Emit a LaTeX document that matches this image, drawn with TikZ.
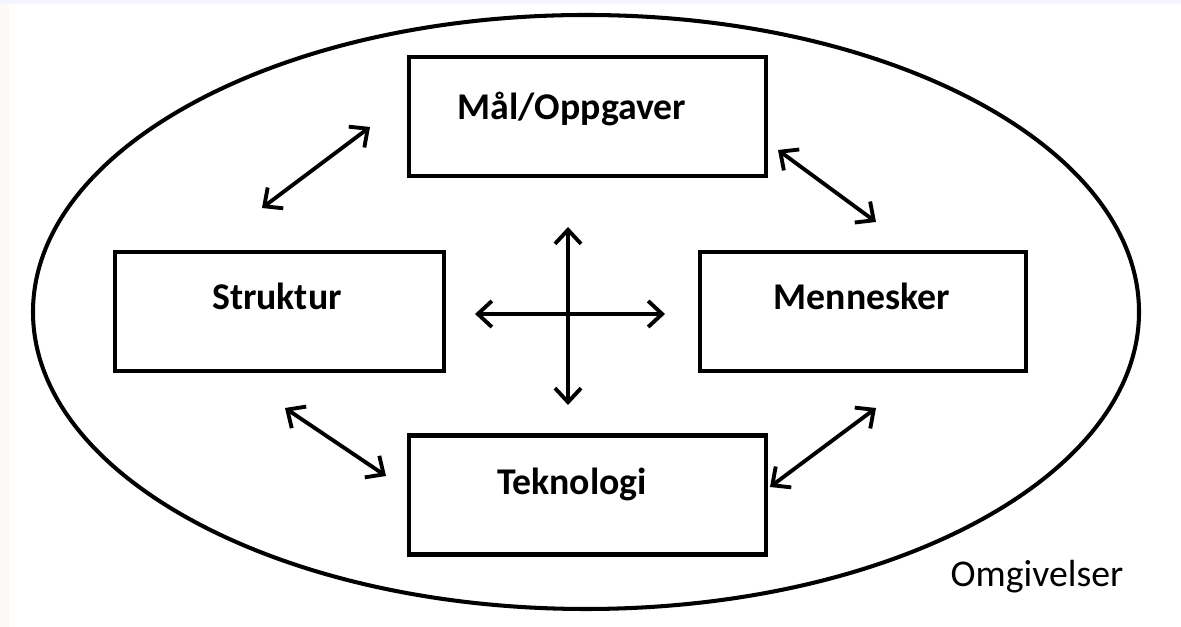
\documentclass[tikz,border=0pt]{standalone}
\usepackage{fontspec}
\setmainfont{Carlito}
\usetikzlibrary{arrows.meta,shapes.geometric}

\begin{document}
\begin{tikzpicture}[
    boks/.style={draw, line width=2.3pt, minimum height=2.38cm},
    tekst/.style={anchor=base, font=\fontsize{21.5}{26}\selectfont\bfseries},
    pil/.style={line width=2.2pt, {Straight Barb[length=0.28cm,width=0.52cm,line width=2.2pt]}-{Straight Barb[length=0.28cm,width=0.52cm,line width=2.2pt]}}
  ]
  \useasboundingbox (0,0) rectangle (23.62,12.54);
  \fill[white] (0,0) rectangle (23.62,12.54);
  \fill[blue!4] (0,12.46) rectangle (23.62,12.54);
  \fill[brown!5] (0,0) rectangle (0.18,12.46);

  \node[draw, ellipse, line width=2.3pt, minimum width=22.12cm, minimum height=11.88cm] (omg) at (11.72,6.30) {};

  \node[boks, minimum width=7.14cm] (maal) at (11.75,10.21) {};
  \node[boks, minimum width=6.58cm] (struktur) at (5.59,6.31) {};
  \node[boks, minimum width=6.52cm] (mennesker) at (17.26,6.31) {};
  \node[boks, minimum width=7.14cm] (tekno) at (11.75,2.64) {};

  \node[tekst] (maaltekst) at ([xshift=-0.31cm,yshift=-0.07cm]maal.center) {Mål/Oppgaver};
  \node[tekst] (strukturtekst) at ([xshift=-0.05cm,yshift=0.03cm]struktur.center) {Struktur};
  \node[tekst] (menneskertekst) at ([xshift=-0.02cm,yshift=0.03cm]mennesker.center) {Mennesker};
  \node[tekst] (teknotekst) at ([xshift=-0.31cm,yshift=0cm]tekno.center) {Teknologi};
  \node[tekst, font=\fontsize{21.5}{26}\selectfont] (omgtekst) at (20.74,0.80) {Omgivelser};

  % piler mellom boksene
  \coordinate (sm1) at (5.24,8.38);  \coordinate (sm2) at (7.40,10.00);
  \coordinate (mm1) at (15.56,9.54); \coordinate (mm2) at (17.52,8.10);
  \coordinate (st1) at (5.70,4.38);  \coordinate (st2) at (7.72,3.02);
  \coordinate (tm1) at (15.40,2.80); \coordinate (tm2) at (17.52,4.38);
  \coordinate (kn) at (11.36,8.00);  \coordinate (ks) at (11.36,4.44);
  \coordinate (kv) at (9.50,6.26);   \coordinate (ko) at (13.30,6.26);

  \draw[pil] (sm1) -- (sm2);
  \draw[pil] (mm1) -- (mm2);
  \draw[pil] (st1) -- (st2);
  \draw[pil] (tm1) -- (tm2);
  \draw[pil] (kn) -- (ks);
  \draw[pil] (kv) -- (ko);
\end{tikzpicture}
\end{document}
